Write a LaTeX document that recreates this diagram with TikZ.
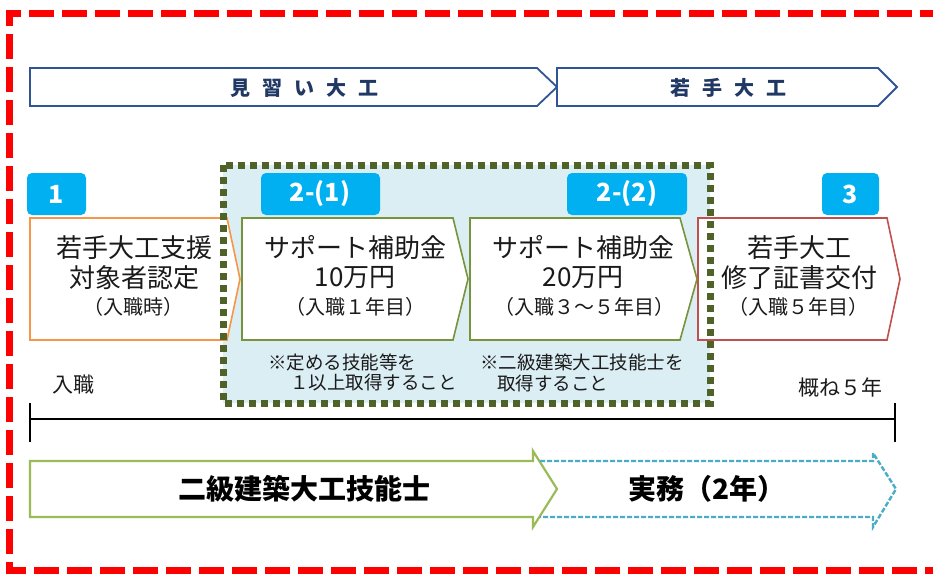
\documentclass[tikz,border=0pt]{standalone}
\usepackage{fontspec}
\setmainfont{Noto Sans CJK JP}
\definecolor{bred}{HTML}{FF0000}
\definecolor{navy}{HTML}{2F5597}
\definecolor{navytext}{HTML}{1F3864}
\definecolor{tabblue}{HTML}{00B0F0}
\definecolor{framefill}{HTML}{DBEEF4}
\definecolor{framedot}{HTML}{4F6228}
\definecolor{orangeb}{HTML}{F79646}
\definecolor{greenb}{HTML}{77933C}
\definecolor{redb}{HTML}{C0504D}
\definecolor{lgreen}{HTML}{9BBB59}
\definecolor{dblue}{HTML}{4BACC6}
\definecolor{txt}{HTML}{1A1A1A}
\tikzset{
  phase/.style={draw=navy, line width=1.8pt, fill=white},
  tabbox/.style={fill=tabblue, rounded corners=5pt},
  tabtxt/.style={text=white, font=\fontsize{25}{25}\selectfont\bfseries, inner sep=0pt},
  bigtxt/.style={text=txt, font=\fontsize{26}{26}\selectfont, inner sep=0pt},
  smalltxt/.style={text=txt, font=\fontsize{20}{20}\selectfont, inner sep=0pt},
  notetxt/.style={text=txt, font=\fontsize{18.5}{18.5}\selectfont, inner sep=0pt, anchor=west},
  phasetxt/.style={text=navytext, font=\fontsize{20}{20}\selectfont\bfseries, inner sep=0pt},
  bottxt/.style={text=black, font=\fontsize{28}{28}\selectfont\bfseries, inner sep=0pt},
}
\begin{document}
\begin{tikzpicture}[x=1pt,y=-1pt]
\useasboundingbox (0,0) rectangle (933,574);
% red dashed border
\draw[bred, line width=7pt, dash pattern=on 25pt off 8pt] (945,13) -- (9,13) -- (9,570) -- (945,570);
% phase arrows
\draw[phase] (30,68) -- (537,68) -- (557,87) -- (537,106) -- (30,106) -- cycle;
\draw[phase] (557,68) -- (878,68) -- (897,87) -- (878,106) -- (557,106) -- cycle;
\node[phasetxt] (p1) at (304,88) {見\hspace{12pt}習\hspace{12pt}い\hspace{12pt}大\hspace{12pt}工};
\node[phasetxt] (p2) at (728,88) {若\hspace{12pt}手\hspace{12pt}大\hspace{12pt}工};
% green dotted frame fill
\fill[framefill] (223,165) rectangle (710,403);
% boxes
\draw[orangeb, line width=1.6pt, fill=white] (30,218) -- (227,218) -- (240,279) -- (227,340) -- (30,340) -- cycle;
\draw[redb, line width=1.6pt, fill=white] (698,218) -- (887,218) -- (900,279) -- (887,340) -- (698,340) -- cycle;
\draw[framedot, line width=7pt, dash pattern=on 7pt off 5pt] (223,165) rectangle (710,403);
\draw[greenb, line width=1.6pt, fill=white] (242,218) -- (453,218) -- (468,279) -- (453,340) -- (242,340) -- cycle;
\draw[greenb, line width=1.6pt, fill=white] (470,218) -- (680,218) -- (697,279) -- (680,340) -- (470,340) -- cycle;
% tabs
\fill[tabbox] (27,173) rectangle (86,215);
\fill[tabbox] (261,173) rectangle (380,215);
\fill[tabbox] (567,173) rectangle (687,215);
\fill[tabbox] (822,173) rectangle (879,215);
\node[tabtxt] (t1) at (56,194) {1};
\node[tabtxt] (t2) at (320,194) {2-(1)};
\node[tabtxt] (t3) at (627,194) {2-(2)};
\node[tabtxt] (t4) at (850,194) {3};
% box texts
\node[bigtxt] (b1a) at (134,248) {若手大工支援};
\node[bigtxt] (b1b) at (134,278) {対象者認定};
\node[smalltxt] (b1c) at (133,307) {（入職時）};
\node[bigtxt] (b2a) at (355,248) {サポート補助金};
\node[bigtxt] (b2b) at (355,278) {10万円};
\node[smalltxt] (b2c) at (355,307) {（入職１年目）};
\node[bigtxt] (b3a) at (583,248) {サポート補助金};
\node[bigtxt] (b3b) at (583,278) {20万円};
\node[smalltxt] (b3c) at (584,307) {（入職３～５年目）};
\node[bigtxt] (b4a) at (799,248) {若手大工};
\node[bigtxt] (b4b) at (799,278) {修了証書交付};
\node[smalltxt] (b4c) at (798,307) {（入職５年目）};
% notes
\node[notetxt] (n1a) at (268,362) {※定める技能等を};
\node[notetxt] (n1b) at (290,383) {１以上取得すること};
\node[notetxt] (n2a) at (480,362) {※二級建築大工技能士を};
\node[notetxt] (n2b) at (497,383) {取得すること};
% timeline
\node[text=txt, font=\fontsize{21}{21}\selectfont, inner sep=0pt, anchor=west] (ns) at (52,385) {入職};
\node[text=txt, font=\fontsize{21}{21}\selectfont, inner sep=0pt] (ne) at (840,387) {概ね５年};
\coordinate (tl) at (30,419);
\coordinate (tr) at (895,419);
\draw[black, line width=1.5pt] (tl) -- (tr);
\draw[black, line width=1.5pt] ([yshift=-23pt]tl) -- ([yshift=16pt]tl);
\draw[black, line width=1.5pt] ([yshift=-23pt]tr) -- ([yshift=16pt]tr);
% bottom arrows
\draw[lgreen, line width=2.2pt, line join=miter] (30,461) -- (533,461) -- (533,451) -- (557,489) -- (533,527) -- (533,517) -- (30,517) -- cycle;
\draw[dblue, line width=2.4pt, dash pattern=on 5pt off 2pt] (540,461) -- (873,461) -- (873,453) -- (896,489) -- (873,527) -- (873,517) -- (540,517);
\node[bottxt] (g1) at (304,489) {二級建築大工技能士};
\node[bottxt] (g2) at (707,489) {実務（2年）};
\end{tikzpicture}
\end{document}
